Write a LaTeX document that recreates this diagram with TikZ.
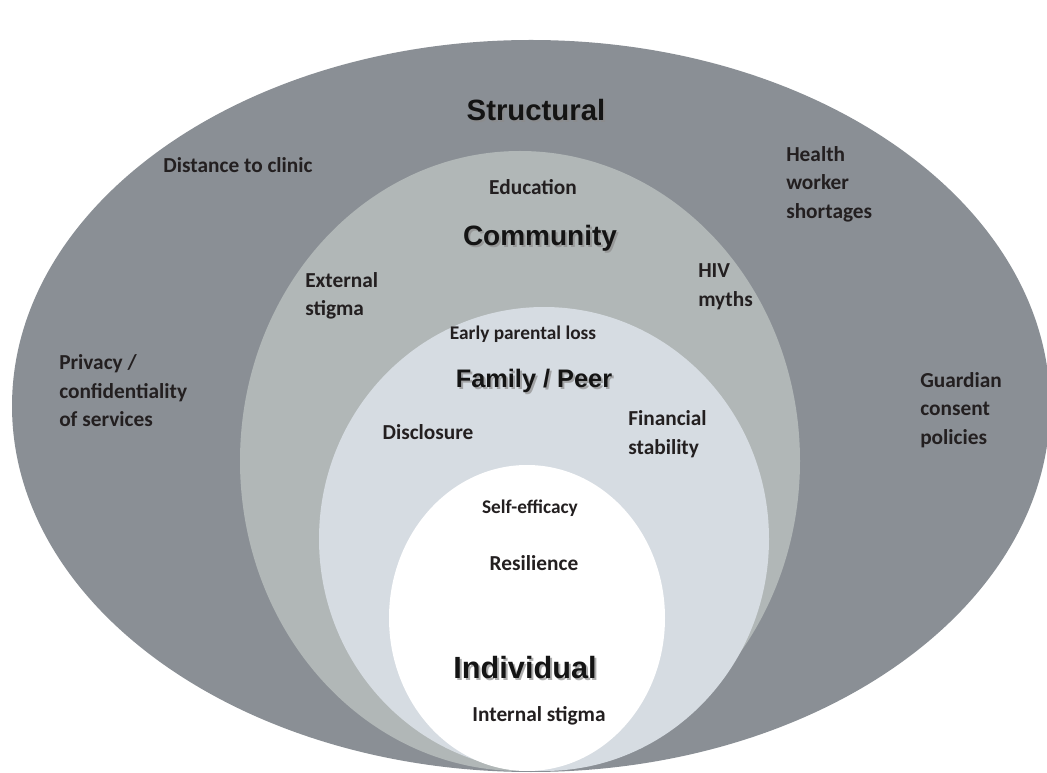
\documentclass[tikz,border=0pt]{standalone}
\usepackage{fontspec}
\setmainfont{Carlito}
\newfontfamily\headfont{Liberation Sans}
\definecolor{structgray}{HTML}{8A8F95}
\definecolor{commgray}{HTML}{B1B7B7}
\definecolor{famgray}{HTML}{D6DCE2}
\definecolor{inktext}{HTML}{231F20}
\tikzset{
  factor/.style={font=\bfseries\fontsize{16}{21.4}\selectfont, text=inktext, align=left, inner sep=0pt},
  small factor/.style={factor, font=\bfseries\fontsize{14.5}{19.5}\selectfont},
  level/.style={font=\headfont\bfseries\fontsize{#1}{#1}\selectfont, text=black!92, inner sep=0pt},
  level/.default=21,
  level shadow/.style={level=#1, text=black!45, opacity=0.7},
  level shadow/.default=21
}
\begin{document}
\begin{tikzpicture}[x=0.75pt,y=-0.75pt]
  \useasboundingbox (0,0) rectangle (1047,773);

  % Nested levels, all touching at the bottom
  \fill[structgray] (531,406) ellipse [x radius=519, y radius=366];
  \fill[commgray] (520,461) ellipse [x radius=280, y radius=310];
  \fill[famgray] (544,539) ellipse [x radius=225, y radius=232];
  \fill[white] (527,618) ellipse [x radius=138, y radius=153];

  % Structural
  \node[level shadow=22] at (538,112) {Structural};
  \node[level=22] (structural) at (536,110) {Structural};
  \node[factor] (distance) at (238,165) {Distance to clinic};
  \node[factor, anchor=west] (shortages) at (786,184) {Health\\worker\\shortages};
  \node[factor, anchor=west] (privacy) at (59,391) {Privacy /\\confidentiality\\of services};
  \node[factor, anchor=west] (guardian) at (920,410) {Guardian\\consent\\policies};

  % Community
  \node[level shadow] at (542,240) {Community};
  \node[level] (community) at (540,238) {Community};
  \node[factor] (education) at (533,187) {Education};
  \node[factor, anchor=west] (extstigma) at (305,296) {External\\stigma};
  \node[factor, anchor=west] (myths) at (698,287) {HIV\\myths};

  % Family / Peer
  \node[level shadow=19] at (536,383) {Family / Peer};
  \node[level=19] (family) at (534,381) {Family / Peer};
  \node[small factor] (parental) at (523,334) {Early parental loss};
  \node[factor] (disclosure) at (428,432) {Disclosure};
  \node[factor, anchor=west] (financial) at (628,434) {Financial\\stability};

  % Individual
  \node[level shadow=23] at (527,670) {Individual};
  \node[level=23] (individual) at (525,668) {Individual};
  \node[small factor] (efficacy) at (530,508) {Self-efficacy};
  \node[factor] (resilience) at (534,563) {Resilience};
  \node[factor] (intstigma) at (539,716) {Internal stigma};
\end{tikzpicture}
\end{document}
